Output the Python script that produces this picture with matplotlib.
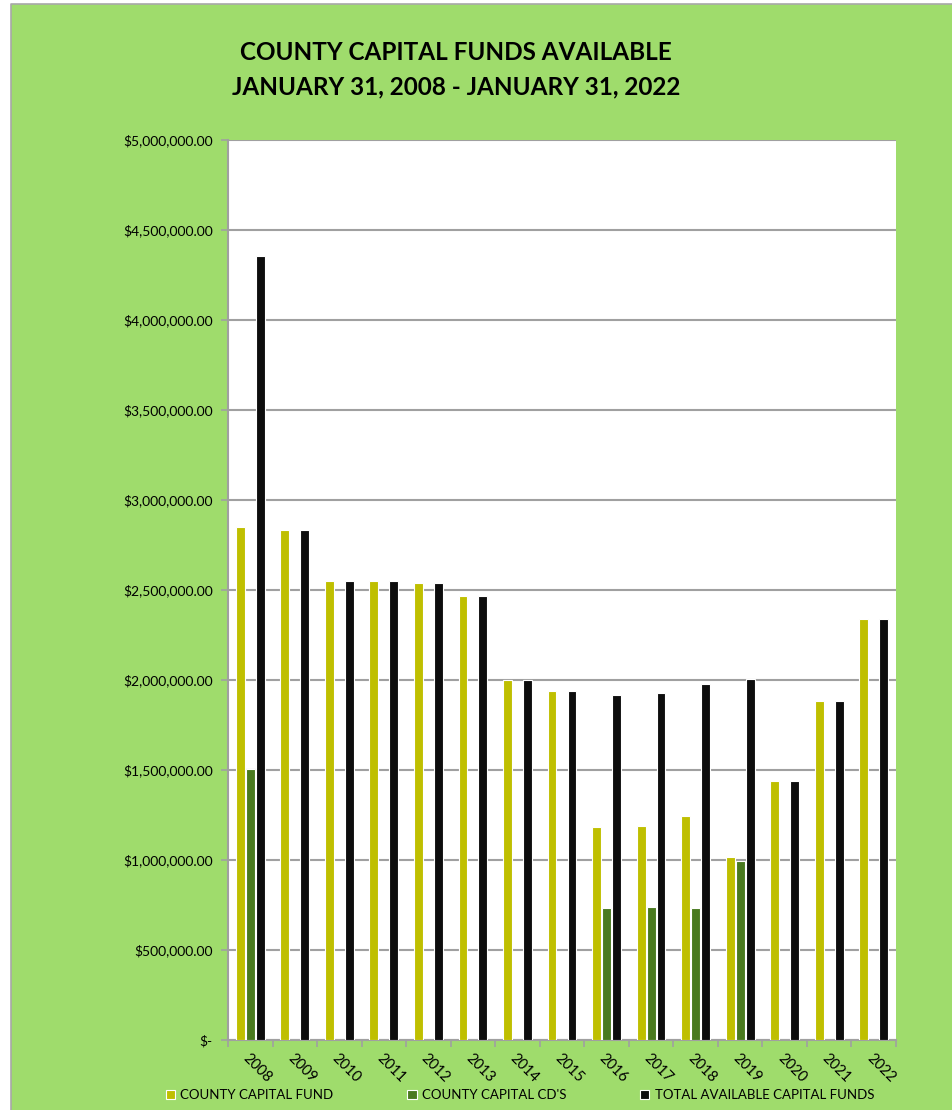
import matplotlib.pyplot as plt
import numpy as np
from matplotlib.patches import Rectangle
from matplotlib.lines import Line2D
from matplotlib.ticker import FuncFormatter, MultipleLocator

years = ['2008', '2009', '2010', '2011', '2012', '2013', '2014', '2015',
         '2016', '2017', '2018', '2019', '2020', '2021', '2022']

capital_fund = [2850000, 2833000, 2550000, 2550000, 2540000, 2467000, 2000000, 1939000,
                1183000, 1190000, 1244000, 1015000, 1439000, 1883000, 2339000]
capital_cds = [1506000, 0, 0, 0, 0, 0, 0, 0,
               733000, 739000, 733000, 993000, 0, 0, 0]
total_funds = [4356000, 2833000, 2550000, 2550000, 2540000, 2467000, 2000000, 1939000,
               1918000, 1928000, 1980000, 2006000, 1439000, 1883000, 2339000]

series_names = ['COUNTY CAPITAL FUND', "COUNTY CAPITAL CD'S", 'TOTAL AVAILABLE CAPITAL FUNDS']

plt.rcParams['font.family'] = ['Lato', 'DejaVu Sans']

bg = '#9fdc6c'
fig = plt.figure(figsize=(9.53, 11.10), dpi=100)
fig.patch.set_facecolor('white')
W, H = 953, 1110
fig.add_artist(Rectangle((11 / W, 0), 1 - 11 / W, (H - 4) / H, transform=fig.transFigure,
                         facecolor=bg, edgecolor='none', zorder=-10))
# grey frame line on top and left only
fig.add_artist(Line2D([11 / W, 11 / W, 1], [0, (H - 4) / H, (H - 4) / H],
                      transform=fig.transFigure, color='#a8a8a8', linewidth=1.2))

ax = fig.add_axes([228 / W, 70 / H, 668 / W, 900 / H])
ax.set_facecolor('white')

x = np.arange(len(years))
w = 0.2
step = 0.224
cols = ['#bfbf00', '#4a7a1f', '#0d0d0d']
for i, (vals, c, name) in enumerate(zip([capital_fund, capital_cds, total_funds], cols, series_names)):
    ax.bar(x + (i - 1) * step, vals, width=w, color=c, edgecolor='white', linewidth=0.8,
           label=name, zorder=3)

ax.set_xlim(-0.5, len(years) - 0.5)
ax.set_ylim(0, 5000000)
ax.yaxis.set_major_locator(MultipleLocator(500000))
ax.yaxis.set_major_formatter(FuncFormatter(lambda v, p: '$-' if v == 0 else '${:,.2f}'.format(v)))
ax.grid(axis='y', color='#a0a0a0', linewidth=1.5, zorder=0)
ax.set_axisbelow(True)

for s in ['top', 'right']:
    ax.spines[s].set_visible(False)
for s in ['left', 'bottom']:
    ax.spines[s].set_color('#a0a0a0')
    ax.spines[s].set_linewidth(1.5)

ax.set_xticks(x)
ax.set_xticklabels(years, rotation=-45, ha='left', va='top', rotation_mode='anchor')
ax.set_xticks(np.arange(len(years) + 1) - 0.5, minor=True)
ax.tick_params(axis='x', which='major', length=0, pad=8, labelsize=10.5)
ax.tick_params(axis='x', which='minor', length=5, color='#a0a0a0', width=1.2)
ax.tick_params(axis='y', length=5, color='#a0a0a0', width=1.2, labelsize=10, pad=6)

fig.text(456 / W, 1 - 52 / H, 'COUNTY CAPITAL FUNDS AVAILABLE', ha='center', va='center',
         fontsize=17.5, fontweight='bold')
fig.text(456 / W, 1 - 87 / H, 'JANUARY 31, 2008 - JANUARY 31, 2022', ha='center', va='center',
         fontsize=17.5, fontweight='bold')

fig.legend(loc='center', bbox_to_anchor=(520 / W, 1 - 1095 / H), ncol=3, frameon=False,
           fontsize=9.5, handlelength=0.7, handleheight=0.7, handletextpad=0.4,
           columnspacing=5.6)

fig.savefig('out.png', dpi=100, facecolor=fig.get_facecolor())
